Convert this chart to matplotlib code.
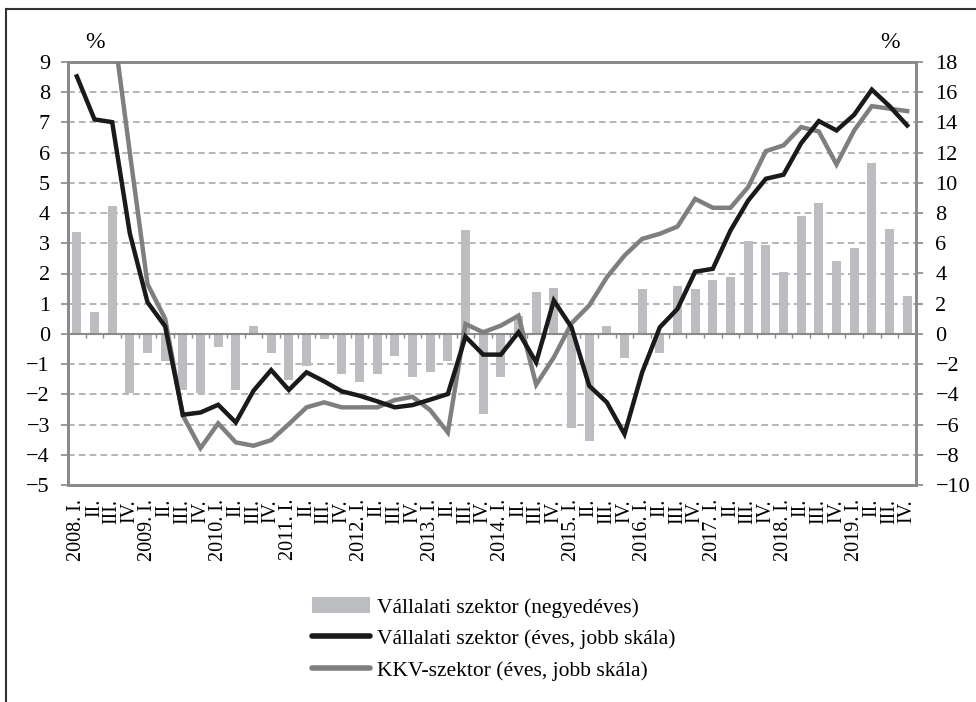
import numpy as np
import matplotlib
matplotlib.use('Agg')
import matplotlib.pyplot as plt
from matplotlib.lines import Line2D
from matplotlib.patches import Patch

plt.rcParams['font.family'] = ['Liberation Serif', 'DejaVu Serif']

# 2008 Q1 .. 2019 Q4
YEARS = list(range(2008, 2020))
QUARTERS = ["I.", "II.", "III.", "IV."]
labels = []
for y in YEARS:
    for qi, q in enumerate(QUARTERS):
        labels.append(f"{y}. {q}" if qi == 0 else q)

# quarterly (left axis, %)
quarterly = [3.37, 0.72, 4.25, -1.97, -0.63, -0.88, -1.86, -1.97,
             -0.44, -1.86, 0.27, -0.63, -1.52, -1.07, -0.18, -1.33,
             -1.60, -1.33, -0.72, -1.44, -1.27, -0.88, 3.45, -2.65,
             -1.44, 0.60, 1.40, 1.51, -3.12, -3.56, 0.27, -0.81,
             1.50, -0.64, 1.60, 1.50, 1.78, 1.88, 3.09, 2.93,
             2.04, 3.89, 4.33, 2.41, 2.84, 5.65, 3.46, 1.24]

# annual, corporate sector (right axis, %)
corp_annual = [17.05, 14.2, 14.02, 6.65, 2.1, 0.5, -5.35, -5.2,
               -4.69, -5.86, -3.76, -2.39, -3.71, -2.54, -3.14, -3.80,
               -4.09, -4.46, -4.86, -4.71, -4.35, -3.98, -0.18, -1.37,
               -1.37, 0.11, -1.88, 2.21, 0.44, -3.43, -4.53, -6.63,
               -2.54, 0.44, 1.66, 4.12, 4.31, 6.85, 8.83, 10.27,
               10.54, 12.63, 14.09, 13.47, 14.51, 16.17, 15.08, 13.8]

# annual, SME sector (right axis, %)
sme_annual = [np.nan, np.nan, 20.9, 12.0, 3.3, 1.0, -5.4, -7.56,
              -5.92, -7.18, -7.40, -7.03, -5.97, -4.86, -4.53, -4.86,
              -4.86, -4.86, -4.38, -4.16, -5.04, -6.52, 0.66, 0.11,
              0.55, 1.21, -3.36, -1.55, 0.70, 1.88, 3.75, 5.19,
              6.29, 6.63, 7.11, 8.94, 8.35, 8.35, 9.72, 12.1,
              12.48, 13.69, 13.4, 11.22, 13.47, 15.08, 14.91, 14.75]

BAR_C = '#bcbdc0'
BLACK_C = '#1a1a1a'
GREY_C = '#7f7f7f'
AXIS_C = '#8a8a8a'

fig = plt.figure(figsize=(9.76, 7.02), dpi=100)
ax = fig.add_axes([68 / 976, 1 - 485 / 702, 848 / 976, 423 / 702])
ax2 = ax.twinx()

x = np.arange(len(labels))
ax.bar(x, quarterly, width=0.5, color=BAR_C, zorder=2)

ax.set_xlim(-0.5, len(labels) - 0.5)
ax.set_ylim(-5, 9)
ax.set_yticks(range(-5, 10))
for v in range(-4, 9):
    if v != 0:
        ax.axhline(v, color='#a8a8a8', lw=1.2, ls=(0, (4, 2.5)), zorder=1)
ax.axhline(0, color=AXIS_C, lw=1.5, zorder=3)
# small ticks on the zero line between the quarters
ax.vlines(np.arange(1, len(labels)) - 0.5, -0.13, 0, color=AXIS_C, lw=1.0, zorder=3)

ax.set_xticks(x)
ax.set_xticklabels(labels, rotation=90, fontsize=14.5)
ax.tick_params(axis='x', length=0, pad=10)
ax.tick_params(axis='y', direction='out', length=5, width=1.2, color=AXIS_C,
               labelsize=16, pad=8)

ax2.plot(x, sme_annual, color=GREY_C, lw=3.2, zorder=4, solid_joinstyle='miter')
ax2.plot(x, corp_annual, color=BLACK_C, lw=3.2, zorder=5, solid_joinstyle='miter')
ax2.set_ylim(-10, 18)
ax2.set_yticks(range(-10, 19, 2))
ax2.tick_params(axis='y', direction='out', length=5, width=1.2, color=AXIS_C,
                labelsize=16, pad=9)

for a in (ax, ax2):
    for s in a.spines.values():
        s.set_color(AXIS_C)
        s.set_linewidth(2.0)

fig.text(95 / 976, 1 - 42 / 702, '%', fontsize=17, ha='center', va='center')
fig.text(890 / 976, 1 - 42 / 702, '%', fontsize=17, ha='center', va='center')

handles = [Patch(facecolor=BAR_C, edgecolor='none'),
           Line2D([], [], color=BLACK_C, lw=4, solid_capstyle='round'),
           Line2D([], [], color=GREY_C, lw=4, solid_capstyle='round')]
legend_labels = ['Vállalati szektor (negyedéves)',
                 'Vállalati szektor (éves, jobb skála)',
                 'KKV-szektor (éves, jobb skála)']
fig.legend(handles, legend_labels, loc='upper left',
           bbox_to_anchor=(312 / 976, 1 - 597 / 702), frameon=False,
           fontsize=15.5, handlelength=2.7, handleheight=0.8, handletextpad=0.3,
           labelspacing=0.5, borderpad=0, borderaxespad=0)

# outer frame (top and left edges)
fig.add_artist(Line2D([6 / 976, 1], [1 - 9 / 702, 1 - 9 / 702], color='#333333', lw=1.5))
fig.add_artist(Line2D([6 / 976, 6 / 976], [0, 1 - 9 / 702], color='#333333', lw=1.5))

fig.savefig('out.png', dpi=100)
